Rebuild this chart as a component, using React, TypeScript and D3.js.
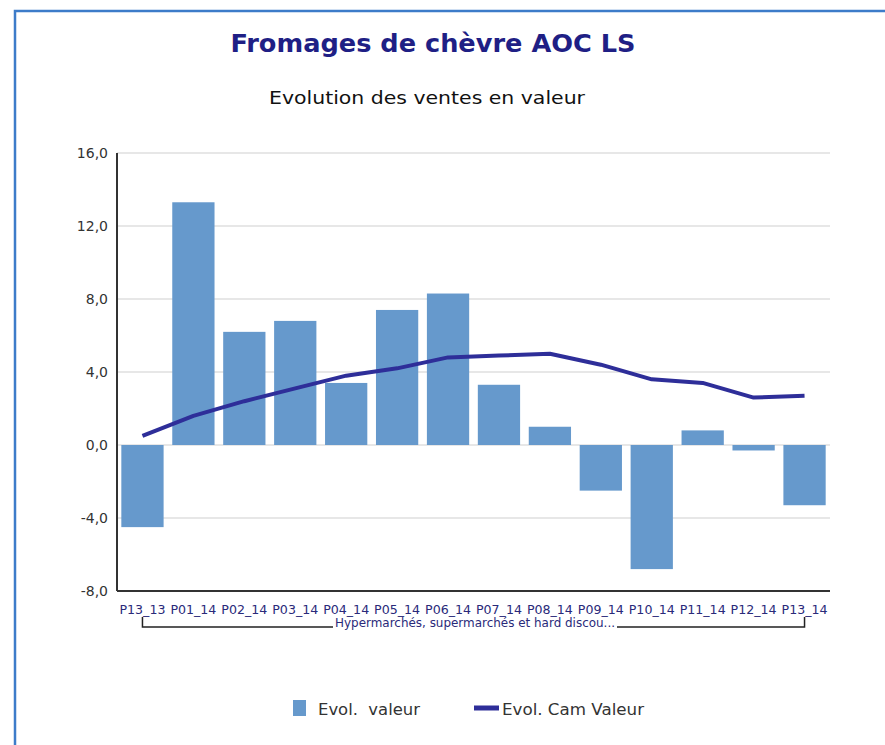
import React from "react";
import * as d3 from "d3";

const categories = ["P13_13","P01_14","P02_14","P03_14","P04_14","P05_14","P06_14","P07_14","P08_14","P09_14","P10_14","P11_14","P12_14","P13_14"];
const evolValeur = [-4.5, 13.3, 6.2, 6.8, 3.4, 7.4, 8.3, 3.3, 1.0, -2.5, -6.8, 0.8, -0.3, -3.3];
const evolCamValeur = [0.5, 1.6, 2.4, 3.1, 3.8, 4.2, 4.8, 4.9, 5.0, 4.4, 3.6, 3.4, 2.6, 2.7];
const yTicks = [-8, -4, 0, 4, 8, 12, 16];
const title = "Fromages de chèvre AOC LS";
const subtitle = "Evolution des ventes en valeur";
const groupLabel = "Hypermarchés, supermarchés et hard discou...";
const legendLabels = ["Evol.  valeur", "Evol. Cam Valeur"];

const W = 885, H = 745;
const left = 117, right = 830, top = 153, bottom = 591;

export default function App() {
  const x = d3.scaleBand<string>().domain(categories).range([left, right]).paddingInner(0.17).paddingOuter(0.085);
  const y = d3.scaleLinear().domain([-8, 16]).range([bottom, top]);
  const line = d3.line<number>()
    .x((_, i) => (x(categories[i]) as number) + x.bandwidth() / 2)
    .y((d) => y(d));
  const font = "DejaVu Sans, Verdana, sans-serif";
  const condensed = "'DejaVu Sans Condensed', 'DejaVu Sans', sans-serif";
  const fmt = (v: number) => v.toFixed(1).replace(".", ",");
  return (
    <svg width={W} height={H} style={{ position: "absolute", left: 0, top: 0 }} fontFamily={font}>
      <rect x={0} y={0} width={W} height={H} fill="#fff" />
      <path d={`M15,${H} V11 H${W}`} fill="none" stroke="#3d7cc9" strokeWidth={2.5} />
      <text x={433} y={52} textAnchor="middle" fontSize={25} fontWeight="bold" fill="#1f1f85" fontFamily={condensed} fontStretch="condensed" textLength={405} lengthAdjust="spacingAndGlyphs">{title}</text>
      <text x={427} y={104} textAnchor="middle" fontSize={17.5} fill="#111" fontFamily={condensed} fontStretch="condensed" textLength={316} lengthAdjust="spacingAndGlyphs">{subtitle}</text>
      {yTicks.map((t) => (
        <g key={t}>
          {t !== -8 && <line x1={left} x2={right} y1={y(t)} y2={y(t)} stroke="#cfcfcf" strokeWidth={1.2} />}
          <text x={108} y={y(t) + 5} textAnchor="end" fontSize={14} fill="#333">{fmt(t)}</text>
        </g>
      ))}
      {evolValeur.map((v, i) => (
        <rect key={categories[i]} x={x(categories[i])} width={x.bandwidth()}
          y={y(Math.max(0, v))} height={Math.abs(y(v) - y(0))} fill="#6699cc" />
      ))}
      <path d={line(evolCamValeur) || ""} fill="none" stroke="#2e2e99" strokeWidth={4} strokeLinejoin="round" />
      <line x1={left} x2={left} y1={top} y2={bottom} stroke="#333" strokeWidth={2} />
      <line x1={left} x2={right} y1={bottom} y2={bottom} stroke="#333" strokeWidth={2} />
      {categories.map((c) => (
        <text key={c} x={(x(c) as number) + x.bandwidth() / 2} y={614} textAnchor="middle" fontSize={11.5} fill="#2a2a7a" textLength={46} lengthAdjust="spacingAndGlyphs">{c}</text>
      ))}
      <path d={`M${(x(categories[0]) as number) + x.bandwidth() / 2},617 V627 H${(x(categories[13]) as number) + x.bandwidth() / 2} V617`} fill="none" stroke="#222" strokeWidth={1.5} />
      <rect x={333} y={617} width={284} height={12} fill="#fff" />
      <text x={475} y={627} textAnchor="middle" fontSize={11.5} fill="#2a2a7a" textLength={280} lengthAdjust="spacingAndGlyphs">{groupLabel}</text>
      <rect x={293} y={700} width={13} height={16} fill="#6699cc" />
      <text x={318} y={715} fontSize={16} fill="#333" style={{ whiteSpace: "pre" }} textLength={102} lengthAdjust="spacingAndGlyphs">{legendLabels[0]}</text>
      <line x1={474} x2={499} y1={708} y2={708} stroke="#2e2e99" strokeWidth={5} />
      <text x={502} y={715} fontSize={16} fill="#333" textLength={142} lengthAdjust="spacingAndGlyphs">{legendLabels[1]}</text>
    </svg>
  );
}
